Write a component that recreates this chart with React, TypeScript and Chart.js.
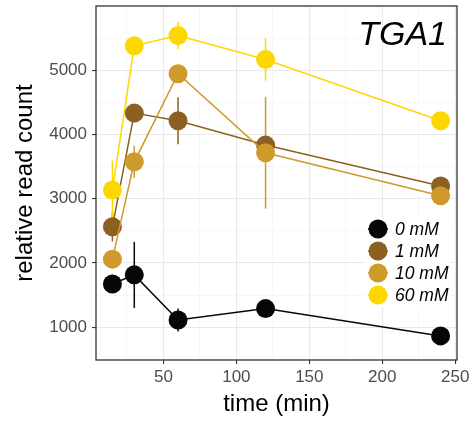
import React, { useEffect, useRef } from "react";
import { Chart, registerables } from "chart.js";

Chart.register(...registerables);

const times = [15, 30, 60, 120, 240];
const seriesLabels = ["0 mM", "1 mM", "10 mM", "60 mM"];
const seriesColors = ["#070707", "#8B6020", "#CD9A2B", "#FFD700"];
const mM0 = [1673, 1815, 1113, 1290, 865];
const mM0err = [80, 515, 180, 60, 70];
const mM1 = [2565, 4333, 4215, 3835, 3197];
const mM1err = [230, 80, 365, 80, 90];
const mM10 = [2060, 3575, 4945, 3715, 3047];
const mM10err = [60, 250, 80, 870, 90];
const mM60 = [3135, 5380, 5540, 5168, 4213];
const mM60err = [460, 80, 210, 330, 100];
const xTicks = [25, 50, 75, 100, 125, 150, 175, 200, 225, 250];
const xMajor = [50, 100, 150, 200, 250];
const yTicks = [500, 1000, 1500, 2000, 2500, 3000, 3500, 4000, 4500, 5000, 5500];
const yMajor = [1000, 2000, 3000, 4000, 5000];
const titleText = "TGA1";

const FONT = '"Liberation Sans", Arial, Helvetica, sans-serif';

export default function App() {
  const ref = useRef<HTMLCanvasElement | null>(null);

  useEffect(() => {
    if (!ref.current) return;
    const values = [mM0, mM1, mM10, mM60];
    const errs = [mM0err, mM1err, mM10err, mM60err];

    const datasets = values.map((vals, i) => ({
      label: seriesLabels[i],
      data: times.map((t, j) => ({ x: t, y: vals[j] })),
      borderColor: seriesColors[i],
      backgroundColor: seriesColors[i],
      pointBackgroundColor: seriesColors[i],
      pointBorderWidth: 0,
      pointRadius: 9.5,
      borderWidth: 1.5,
      order: 3 - i,
      clip: false as any,
      errs: errs[i],
    }));

    const errorBars = {
      id: "errorBars",
      beforeDatasetsDraw(chart: any) {
        const ctx = chart.ctx;
        const ys = chart.scales.y;
        ctx.save();
        chart.data.datasets.forEach((ds: any, i: number) => {
          const meta = chart.getDatasetMeta(i);
          ctx.strokeStyle = ds.borderColor;
          ctx.lineWidth = 1.5;
          ds.data.forEach((p: any, j: number) => {
            const x = meta.data[j].x;
            const e = ds.errs[j];
            ctx.beginPath();
            ctx.moveTo(x, ys.getPixelForValue(p.y + e));
            ctx.lineTo(x, ys.getPixelForValue(p.y - e));
            ctx.stroke();
          });
        });
        ctx.restore();
      },
    };

    const decorations = {
      id: "decorations",
      afterDraw(chart: any) {
        const ctx = chart.ctx;
        const a = chart.chartArea;
        ctx.save();
        // legend
        ctx.fillStyle = "#ffffff";
        ctx.fillRect(366, 217, 84, 90);
        seriesLabels.forEach((lab, i) => {
          const cy = 229 + i * 22;
          ctx.strokeStyle = seriesColors[i];
          ctx.lineWidth = 1.5;
          ctx.beginPath();
          ctx.moveTo(368, cy);
          ctx.lineTo(388, cy);
          ctx.stroke();
          ctx.fillStyle = seriesColors[i];
          ctx.beginPath();
          ctx.arc(378, cy, 9.5, 0, Math.PI * 2);
          ctx.fill();
          ctx.fillStyle = "#000000";
          ctx.font = "italic 17.5px " + FONT;
          ctx.textAlign = "left";
          ctx.textBaseline = "middle";
          ctx.fillText(lab, 395, cy + 1);
        });
        // title
        ctx.fillStyle = "#000000";
        ctx.font = "italic 34px " + FONT;
        ctx.textAlign = "right";
        ctx.textBaseline = "alphabetic";
        ctx.fillText(titleText, 447, 45);
        // panel border
        ctx.strokeStyle = "#333333";
        ctx.lineWidth = 1.3;
        ctx.strokeRect(a.left, a.top, a.right - a.left, a.bottom - a.top);
        ctx.restore();
      },
    };

    const chart = new Chart(ref.current, {
      type: "line",
      data: { datasets: datasets as any },
      plugins: [errorBars, decorations],
      options: {
        animation: false,
        responsive: false,
        devicePixelRatio: 1,
        layout: { autoPadding: false, padding: { top: 6, right: 17, bottom: 0, left: 0 } },
        plugins: { legend: { display: false }, tooltip: { enabled: false } },
        scales: {
          x: {
            type: "linear",
            min: 3.75,
            max: 251.25,
            afterBuildTicks: (axis: any) => {
              axis.ticks = xTicks.map((v) => ({ value: v }));
            },
            afterFit: (axis: any) => {
              axis.height = 63;
              axis.paddingLeft = 0;
              axis.paddingRight = 0;
            },
            border: { display: false },
            grid: {
              color: (c: any) => (c.tick && xMajor.includes(c.tick.value) ? "#e9e9e9" : "#f1f1f1"),
              lineWidth: (c: any) => (c.tick && xMajor.includes(c.tick.value) ? 1.1 : 0.6),
              tickColor: (c: any) => (c.tick && xMajor.includes(c.tick.value) ? "#333333" : "rgba(0,0,0,0)"),
              tickWidth: 1.1,
              tickLength: 4,
            },
            ticks: {
              autoSkip: false,
              maxRotation: 0,
              padding: 3,
              color: "#4d4d4d",
              font: { family: FONT, size: 17 },
              callback: (v: any) => (xMajor.includes(Number(v)) ? String(v) : ""),
            },
            title: {
              display: true,
              text: "time (min)",
              color: "#000000",
              font: { family: FONT, size: 24 },
              padding: { top: 0, bottom: 4 },
            },
          },
          y: {
            type: "linear",
            min: 490,
            max: 6000,
            afterBuildTicks: (axis: any) => {
              axis.ticks = yTicks.map((v) => ({ value: v }));
            },
            afterFit: (axis: any) => {
              axis.width = 96;
              axis.paddingTop = 0;
              axis.paddingBottom = 0;
            },
            border: { display: false },
            grid: {
              color: (c: any) => (c.tick && yMajor.includes(c.tick.value) ? "#e9e9e9" : "#f1f1f1"),
              lineWidth: (c: any) => (c.tick && yMajor.includes(c.tick.value) ? 1.1 : 0.6),
              tickColor: (c: any) => (c.tick && yMajor.includes(c.tick.value) ? "#333333" : "rgba(0,0,0,0)"),
              tickWidth: 1.1,
              tickLength: 4,
            },
            ticks: {
              autoSkip: false,
              padding: 5,
              color: "#4d4d4d",
              font: { family: FONT, size: 17 },
              callback: (v: any) => (yMajor.includes(Number(v)) ? String(v) : ""),
            },
            title: {
              display: true,
              text: "relative read count",
              color: "#000000",
              font: { family: FONT, size: 24 },
              padding: { top: 11, bottom: 0 },
            },
          },
        },
      },
    });
    return () => chart.destroy();
  }, []);

  return (
    <div style={{ position: "absolute", left: 0, top: 0, width: 474, height: 423, background: "#ffffff" }}>
      <canvas ref={ref} width={474} height={423} style={{ width: 474, height: 423, display: "block" }} />
    </div>
  );
}
